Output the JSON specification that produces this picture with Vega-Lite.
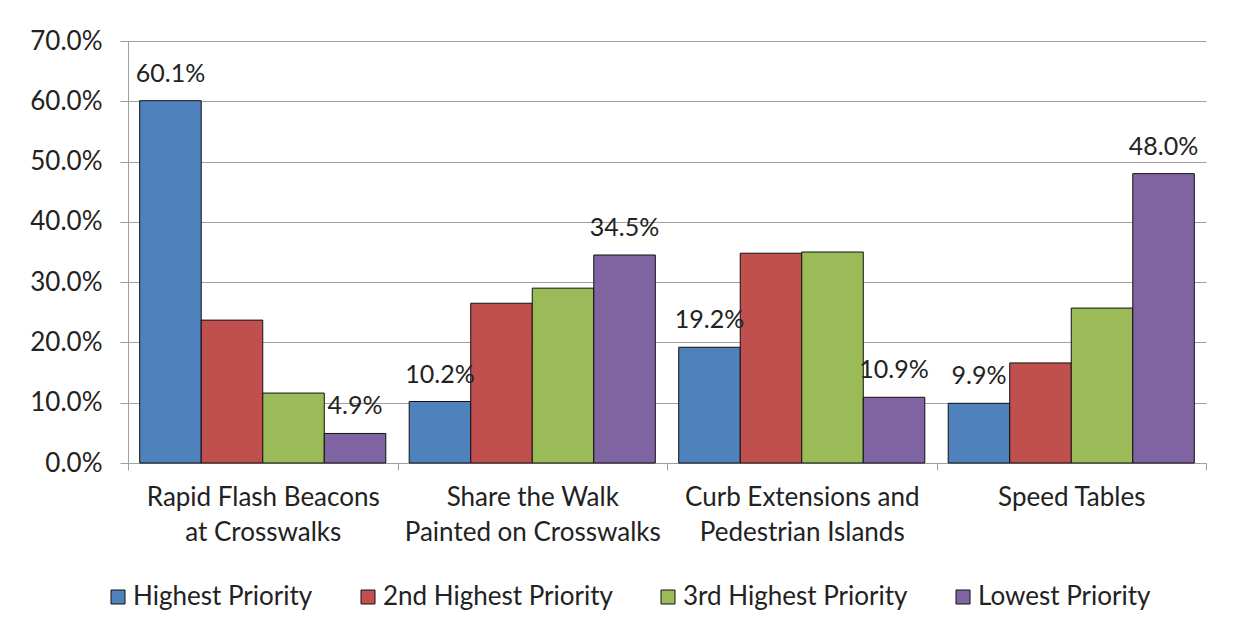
{
  "$schema": "https://vega.github.io/schema/vega-lite/v6.json",
  "autosize": "none",
  "width": 1078,
  "height": 422,
  "padding": {"left": 128, "top": 41, "right": 28, "bottom": 172},
  "background": "white",
  "config": {
    "font": "Lato",
    "view": {"stroke": null},
    "axis": {"labelFont": "Lato", "labelColor": "#222222", "labelFontSize": 26, "labelLimit": 0},
    "legend": {"labelFont": "Lato", "labelColor": "#222222", "labelFontSize": 26, "labelLimit": 0}
  },
  "data": {
    "values": [
      {"measure": "Rapid Flash Beacons at Crosswalks", "priority": "Highest Priority", "value": 0.601},
      {"measure": "Rapid Flash Beacons at Crosswalks", "priority": "2nd Highest Priority", "value": 0.237},
      {"measure": "Rapid Flash Beacons at Crosswalks", "priority": "3rd Highest Priority", "value": 0.116},
      {"measure": "Rapid Flash Beacons at Crosswalks", "priority": "Lowest Priority", "value": 0.049},
      {"measure": "Share the Walk Painted on Crosswalks", "priority": "Highest Priority", "value": 0.102},
      {"measure": "Share the Walk Painted on Crosswalks", "priority": "2nd Highest Priority", "value": 0.265},
      {"measure": "Share the Walk Painted on Crosswalks", "priority": "3rd Highest Priority", "value": 0.290},
      {"measure": "Share the Walk Painted on Crosswalks", "priority": "Lowest Priority", "value": 0.345},
      {"measure": "Curb Extensions and Pedestrian Islands", "priority": "Highest Priority", "value": 0.192},
      {"measure": "Curb Extensions and Pedestrian Islands", "priority": "2nd Highest Priority", "value": 0.348},
      {"measure": "Curb Extensions and Pedestrian Islands", "priority": "3rd Highest Priority", "value": 0.350},
      {"measure": "Curb Extensions and Pedestrian Islands", "priority": "Lowest Priority", "value": 0.109},
      {"measure": "Speed Tables", "priority": "Highest Priority", "value": 0.099},
      {"measure": "Speed Tables", "priority": "2nd Highest Priority", "value": 0.166},
      {"measure": "Speed Tables", "priority": "3rd Highest Priority", "value": 0.257},
      {"measure": "Speed Tables", "priority": "Lowest Priority", "value": 0.480}
    ]
  },
  "encoding": {
    "x": {
      "field": "measure",
      "type": "nominal",
      "sort": null,
      "scale": {"paddingInner": 0, "paddingOuter": 0},
      "axis": {
        "title": null,
        "labelAngle": 0,
        "domainColor": "#A0A0A0",
        "tickColor": "#A0A0A0",
        "tickSize": 7,
        "tickBand": "extent",
        "labelPadding": 14,
        "labelLineHeight": 35,
        "labelBaseline": "top",
        "labelExpr": "datum.label == 'Rapid Flash Beacons at Crosswalks' ? ['Rapid Flash Beacons', 'at Crosswalks'] : datum.label == 'Share the Walk Painted on Crosswalks' ? ['Share the Walk', 'Painted on Crosswalks'] : datum.label == 'Curb Extensions and Pedestrian Islands' ? ['Curb Extensions and', 'Pedestrian Islands'] : datum.label"
      }
    },
    "xOffset": {
      "field": "priority",
      "type": "nominal",
      "sort": ["Highest Priority", "2nd Highest Priority", "3rd Highest Priority", "Lowest Priority"],
      "scale": {"paddingInner": 0, "paddingOuter": 0.19}
    },
    "y": {
      "field": "value",
      "type": "quantitative",
      "scale": {"domain": [0, 0.7], "nice": false},
      "axis": {
        "title": null,
        "format": ".1%",
        "values": [0, 0.1, 0.2, 0.3, 0.4, 0.5, 0.6, 0.7],
        "gridColor": "#A0A0A0",
        "gridWidth": 1,
        "domainColor": "#A0A0A0",
        "tickColor": "#A0A0A0",
        "tickSize": 8,
        "labelPadding": 18
      }
    }
  },
  "layer": [
    {
      "mark": {"type": "bar", "stroke": "#111111", "strokeWidth": 1},
      "encoding": {
        "color": {
          "field": "priority",
          "type": "nominal",
          "sort": ["Highest Priority", "2nd Highest Priority", "3rd Highest Priority", "Lowest Priority"],
          "scale": {
            "domain": ["Highest Priority", "2nd Highest Priority", "3rd Highest Priority", "Lowest Priority"],
            "range": ["#4F81BD", "#C0504D", "#9BBB59", "#8064A2"]
          },
          "legend": {
            "title": null,
            "orient": "none",
            "direction": "horizontal",
            "legendX": -23,
            "legendY": 543,
            "symbolType": "square",
            "symbolSize": 196,
            "symbolStrokeColor": "#111111",
            "symbolStrokeWidth": 1,
            "labelOffset": 2,
            "columnPadding": 42
          }
        }
      }
    },
    {
      "transform": [{"filter": "datum.priority == 'Highest Priority' || datum.priority == 'Lowest Priority'"}],
      "mark": {"type": "text", "baseline": "alphabetic", "dy": -19, "fontSize": 25, "color": "#222222"},
      "encoding": {
        "text": {"field": "value", "type": "quantitative", "format": ".1%"}
      }
    }
  ]
}
